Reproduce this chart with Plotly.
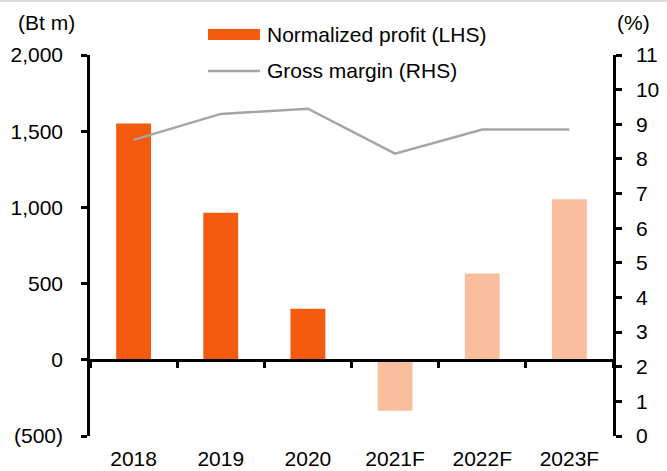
import plotly.graph_objects as go

categories = ["2018", "2019", "2020", "2021F", "2022F", "2023F"]
normalized_profit = [1550, 965, 335, -335, 566, 1053]
gross_margin = [8.55, 9.3, 9.45, 8.15, 8.85, 8.85]
is_forecast = [False, False, False, True, True, True]

left_tickvals = [-500, 0, 500, 1000, 1500, 2000]
left_ticktext = ["(500)", "0", "500", "1,000", "1,500", "2,000"]
right_tickvals = list(range(0, 12))

DARK = "#F45B0E"
LIGHT = "#F9BE9E"
GRAY = "#A5A5A5"
FONT = "Liberation Sans, Arial, sans-serif"
FS = 21

bar_colors = [LIGHT if f else DARK for f in is_forecast]

fig = go.Figure()
fig.add_trace(go.Bar(
    x=categories, y=normalized_profit, name="Normalized profit (LHS)",
    marker=dict(color=bar_colors, line=dict(width=0)), width=0.4,
    xaxis="x", yaxis="y", showlegend=False,
))
fig.add_trace(go.Scatter(
    x=categories, y=gross_margin, name="Gross margin (RHS)", mode="lines",
    line=dict(color=GRAY, width=2.5), xaxis="x", yaxis="y2", showlegend=False,
))
# helper trace to bind the zero-line category axis
fig.add_trace(go.Scatter(
    x=categories, y=[0] * len(categories), mode="lines", line=dict(width=0),
    xaxis="x2", yaxis="y", showlegend=False, hoverinfo="skip",
))

# legend drawn as paper-referenced swatches + labels
sw_x0, sw_x1, txt_x = 0.2256, 0.3250, 0.3346
shapes = [
    dict(type="rect", xref="paper", yref="paper", x0=sw_x0, x1=sw_x1,
         y0=1.0394, y1=1.0682, fillcolor=DARK, line=dict(width=0)),
    dict(type="line", xref="paper", yref="paper", x0=sw_x0, x1=sw_x1,
         y0=0.9580, y1=0.9580, line=dict(color=GRAY, width=2.5)),
    dict(type="line", xref="paper", yref="paper", x0=-0.2, x1=1.2,
         y0=1.1417, y1=1.1417, line=dict(color="#CFCFCF", width=1.5)),
]
annotations = [
    dict(text="Normalized profit (LHS)", xref="paper", yref="paper", x=txt_x,
         y=1.0525, xanchor="left", yanchor="middle", showarrow=False,
         font=dict(size=FS, family=FONT)),
    dict(text="Gross margin (RHS)", xref="paper", yref="paper", x=txt_x,
         y=0.9600, xanchor="left", yanchor="middle", showarrow=False,
         font=dict(size=FS, family=FONT)),
    dict(text="(Bt m)", xref="paper", yref="paper", x=-0.1415, y=1.084,
         xanchor="left", yanchor="middle", showarrow=False,
         font=dict(size=FS, family=FONT)),
    dict(text="(%)", xref="paper", yref="paper", x=1.0038, y=1.084,
         xanchor="left", yanchor="middle", showarrow=False,
         font=dict(size=FS, family=FONT)),
]

fig.update_layout(
    width=667, height=471,
    margin=dict(l=90, r=54, t=55, b=35, autoexpand=False),
    paper_bgcolor="white", plot_bgcolor="white",
    font=dict(family=FONT, size=FS, color="black"),
    showlegend=False,
    xaxis=dict(
        type="category", categoryorder="array", categoryarray=categories,
        range=[-0.5, 5.5], showline=False, showgrid=False, zeroline=False,
        ticks="", ticklabelstandoff=8, tickfont=dict(size=FS, family=FONT),
    ),
    xaxis2=dict(
        type="category", categoryorder="array", categoryarray=categories,
        range=[-0.5, 5.5], overlaying="x", anchor="free", position=0.2,
        showline=True, linecolor="black", linewidth=2.5,
        ticks="outside", tickson="boundaries", ticklen=6, tickwidth=2.5,
        tickcolor="black", showticklabels=False, showgrid=False, zeroline=False,
    ),
    yaxis=dict(
        range=[-500, 2000], tickvals=left_tickvals, ticktext=left_ticktext,
        showline=True, linecolor="black", linewidth=2.5,
        ticks="outside", ticklen=6, tickwidth=2.5, tickcolor="black",
        showgrid=False, zeroline=False, ticklabelstandoff=14,
        tickfont=dict(size=FS, family=FONT),
    ),
    yaxis2=dict(
        range=[0, 11], tickvals=right_tickvals, overlaying="y", side="right",
        anchor="x", showline=True, linecolor="black", linewidth=2.5,
        ticks="outside", ticklen=6, tickwidth=2.5, tickcolor="black",
        showgrid=False, zeroline=False, ticklabelstandoff=10,
        tickfont=dict(size=FS, family=FONT),
    ),
    annotations=annotations,
    shapes=shapes,
)

fig.write_html(
    "out.html",
    config={"displayModeBar": False},
    post_script="document.body.style.margin='0';document.body.style.padding='0';",
)
